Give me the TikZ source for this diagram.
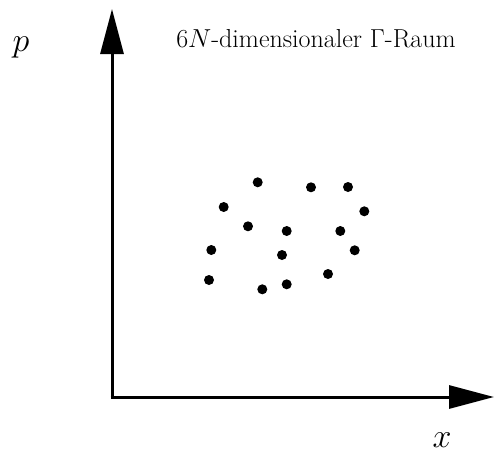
\documentclass[tikz,border=0pt]{standalone}
\usepackage{fix-cm}
\usetikzlibrary{arrows.meta}
\begin{document}
\begin{tikzpicture}[x=1pt,y=-1pt,
  axis/.style={line width=3pt,-{Triangle[length=45pt,width=23pt]}},
  pt/.style={circle,fill=black,inner sep=0pt,minimum size=10pt},
  lbl/.style={font=\fontsize{34}{40}\selectfont,inner sep=0pt}]
\useasboundingbox (0,0) rectangle (494,452);
\coordinate (o) at (112,397);
\coordinate (ptop) at (112,9);
\coordinate (xend) at (494,397);
\draw[axis] (o) -- (ptop);
\draw[axis] ([xshift=-1.5pt]o) -- (xend);
\node[lbl] (p) at (21,47) {$p$};
\node[lbl] (x) at (442,440) {$x$};
\node[font=\fontsize{26}{31}\selectfont,anchor=base,inner sep=0pt] (title) at (316,47) {6$N$-dimensionaler $\Gamma$-Raum};
\foreach \i/\a/\b in {1/257.7/182.3,2/311/187.3,3/348/187,4/223.7/207,5/364.3/211.3,6/248/226.3,7/286.7/231,8/340.3/231,9/211.3/250,10/282/255,11/354.7/250.3,12/209/280,13/328/274,14/262.3/289.3,15/286.7/284.3}
  \node[pt] (d\i) at (\a,\b) {};
\end{tikzpicture}
\end{document}
